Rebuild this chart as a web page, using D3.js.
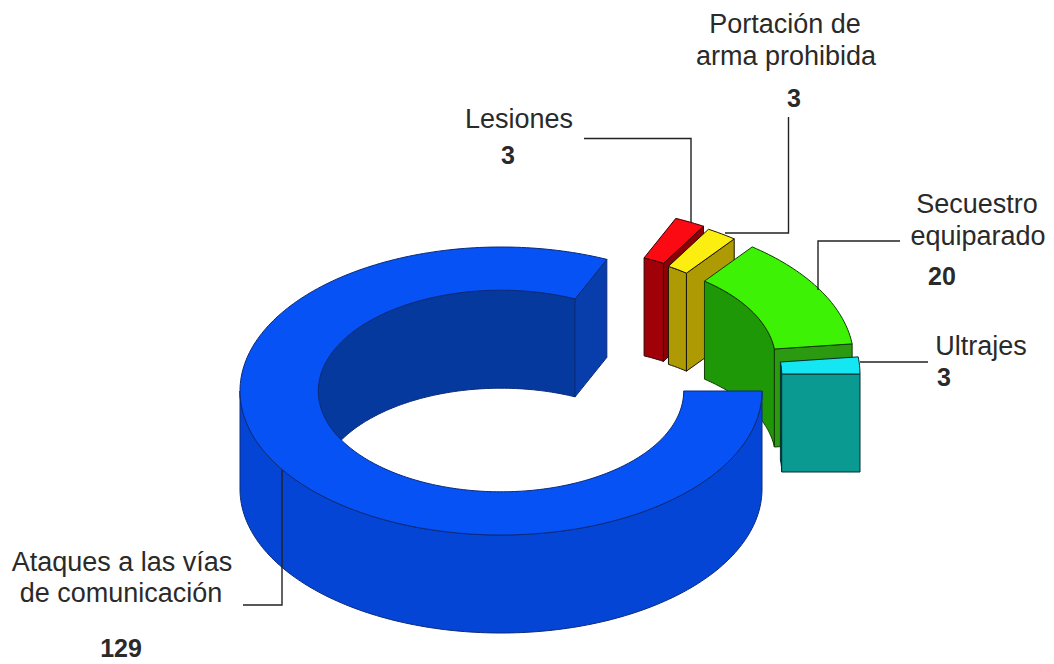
<!DOCTYPE html>
<html>
<head>
<meta charset="utf-8">
<script src="https://cdn.jsdelivr.net/npm/d3@7"></script>
<style>
  html, body { margin: 0; background: #fff; }
  svg { display: block; }
  text { font-family: "Liberation Sans", Arial, sans-serif; fill: #2a2a2a; }
</style>
</head>
<body>
<script>
// data
var categories = ['Ataques a las vías de comunicación', 'Lesiones', 'Portación de arma prohibida', 'Secuestro equiparado', 'Ultrajes']
var values = [129, 3, 3, 20, 3]

// colours per slice
var topColors = ['#0652f4', '#fb0a14', '#fdee12', '#3df204', '#14e6f2']
var outerColors = ['#0545d6', '#a80008', '#ae9a02', '#2a9a0c', '#0a9a92']
var innerColors = ['#06399e', '#a00008', '#ae9a02', '#1f9808', '#0a9a92']
var cutColors = ['#083eac', '#8c0006', '#ae9a02', '#2c9a10', '#0a9a92']
var edgeColors = ['#0a2a7a', '#3a0000', '#1a1600', '#103c00', '#002e2e']

// how far each slice is pulled out of the ring, in px
var pullX = [0, 69, 74, 92, 98]
var pullY = [0, -41, -38, -30, -17]
// back to front
var drawOrder = [1, 2, 3, 0, 4]

var width = 1054, height = 664
var innerRatio = 0.7, depth = 98

var svg = d3.select('body').append('svg')
  .attr('width', width)
  .attr('height', height)

var x = d3.scaleLinear().domain([-1, 1]).range([240, 762])
var y = d3.scaleLinear().domain([-1, 1]).range([247, 535])

var pie = d3.pie()
  .sort(null)
  .startAngle(Math.PI / 2)
  .endAngle(Math.PI * 2.5)

var slices = pie(values)
var line = d3.line()

// a is clockwise from north like d3.arc
function ringPoint (i, a, r, z) {
  return [x(r * Math.sin(a)) + pullX[i], y(-r * Math.cos(a)) + pullY[i] + z]
}

function arcPoints (i, a0, a1, r, z) {
  var n = Math.max(2, Math.ceil(Math.abs(a1 - a0) / 0.02))
  return d3.range(n + 1).map(function (k) {
    return ringPoint(i, a0 + (a1 - a0) * k / n, r, z)
  })
}

function face (g, i, pts, fill) {
  g.append('path')
    .attr('d', line(pts) + 'Z')
    .attr('fill', fill)
    .attr('stroke', edgeColors[i])
    .attr('stroke-width', 1)
    .attr('stroke-linejoin', 'round')
}

function drawSlice (i) {
  var d = slices[i]
  var g = svg.append('g').attr('class', 'slice')
  var a0 = d.startAngle, a1 = d.endAngle

  // inner wall shows on the far half of the ring
  var from = Math.max(a0, Math.PI * 1.5)
  face(g, i, arcPoints(i, from, a1, innerRatio, 0)
    .concat(arcPoints(i, a1, from, innerRatio, depth)), innerColors[i])

  // end cut
  face(g, i, [
    ringPoint(i, a1, innerRatio, 0),
    ringPoint(i, a1, 1, 0),
    ringPoint(i, a1, 1, depth),
    ringPoint(i, a1, innerRatio, depth)
  ], cutColors[i])

  // outer wall shows on the near half only
  var o0 = Math.max(a0, Math.PI / 2), o1 = Math.min(a1, Math.PI * 1.5)
  if (o1 > o0) {
    face(g, i, arcPoints(i, o0, o1, 1, 0)
      .concat(arcPoints(i, o1, o0, 1, depth)), outerColors[i])
  }

  // top of the slice
  face(g, i, arcPoints(i, a0, a1, 1, 0)
    .concat(arcPoints(i, a1, a0, innerRatio, 0)), topColors[i])
}

drawOrder.forEach(drawSlice)

// leader lines
var leaders = [
  [[282, 470], [282, 605], [243, 605]],
  [[584, 138.5], [691, 138.5], [691, 222]],
  [[788.5, 117], [788.5, 233], [725, 233]],
  [[900, 241], [818, 241], [818, 290]],
  [[860, 362], [928, 362]]
]
svg.selectAll('.leader')
  .data(leaders)
  .enter()
  .append('path')
  .attr('class', 'leader')
  .attr('d', line)
  .attr('fill', 'none')
  .attr('stroke', '#222')
  .attr('stroke-width', 1.4)

// labels, split on the lines of the original
var labelLines = [
  { t: 'Ataques a las vías', x: 122, y: 571 },
  { t: 'de comunicación', x: 121, y: 602 },
  { t: 'Lesiones', x: 519, y: 128 },
  { t: 'Portación de', x: 785, y: 33 },
  { t: 'arma prohibida', x: 786, y: 65 },
  { t: 'Secuestro', x: 977, y: 213 },
  { t: 'equiparado', x: 978, y: 245 },
  { t: 'Ultrajes', x: 981, y: 355 }
]
svg.selectAll('.label')
  .data(labelLines)
  .enter()
  .append('text')
  .attr('class', 'label')
  .attr('x', function (d) { return d.x })
  .attr('y', function (d) { return d.y })
  .attr('text-anchor', 'middle')
  .attr('font-size', 27)
  .text(function (d) { return d.t })

var valuePos = [[121, 657], [508, 164], [794, 107], [942, 285], [944, 386]]
svg.selectAll('.value')
  .data(values)
  .enter()
  .append('text')
  .attr('class', 'value')
  .attr('x', function (d, i) { return valuePos[i][0] })
  .attr('y', function (d, i) { return valuePos[i][1] })
  .attr('text-anchor', 'middle')
  .attr('font-size', 25)
  .attr('font-weight', 'bold')
  .text(function (d) { return d })
</script>
</body>
</html>
